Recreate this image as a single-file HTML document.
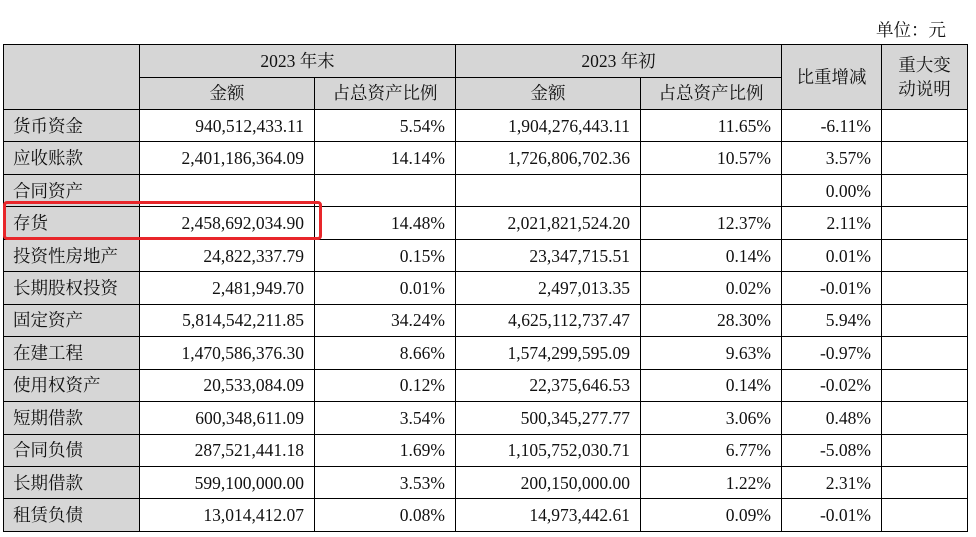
<!DOCTYPE html>
<html><head><meta charset="utf-8">
<style>
html,body{margin:0;padding:0;background:#fff;width:976px;height:537px;overflow:hidden;}
body{font-family:"Liberation Serif","Noto Serif CJK SC",serif;color:#111;font-size:17.5px;position:relative;}
#unit{position:absolute;right:30px;top:17px;font-size:17.5px;}
table{position:absolute;left:3px;top:44px;border-collapse:collapse;table-layout:fixed;width:964px;}
td{border:1px solid #000;padding:0 10px;white-space:nowrap;overflow:hidden;line-height:20px;}
tr.h td{background:#d6d6d6;text-align:center;height:31.5px;}
tr.d td{height:31.46px;text-align:right;}
tr.d td.l{text-align:left;background:#d6d6d6;padding-left:9px;}
#hl{position:absolute;left:3px;top:201px;width:313px;height:33px;border:3px solid #e8262a;border-radius:4px;}
</style></head><body>
<div id="unit">单位：元</div>
<table>
<colgroup><col style="width:136px"><col style="width:175px"><col style="width:141px"><col style="width:185px"><col style="width:141px"><col style="width:100px"><col style="width:86px"></colgroup>
<tr class="h"><td rowspan="2"></td><td colspan="2">2023 年末</td><td colspan="2">2023 年初</td><td rowspan="2">比重增减</td><td rowspan="2" style="line-height:24px;padding:0 4px">重大变<br>动说明</td></tr>
<tr class="h"><td>金额</td><td>占总资产比例</td><td>金额</td><td>占总资产比例</td></tr>
<tr class="d"><td class="l">货币资金</td><td>940,512,433.11</td><td>5.54%</td><td>1,904,276,443.11</td><td>11.65%</td><td>-6.11%</td><td></td></tr>
<tr class="d"><td class="l">应收账款</td><td>2,401,186,364.09</td><td>14.14%</td><td>1,726,806,702.36</td><td>10.57%</td><td>3.57%</td><td></td></tr>
<tr class="d"><td class="l">合同资产</td><td></td><td></td><td></td><td></td><td>0.00%</td><td></td></tr>
<tr class="d"><td class="l">存货</td><td>2,458,692,034.90</td><td>14.48%</td><td>2,021,821,524.20</td><td>12.37%</td><td>2.11%</td><td></td></tr>
<tr class="d"><td class="l">投资性房地产</td><td>24,822,337.79</td><td>0.15%</td><td>23,347,715.51</td><td>0.14%</td><td>0.01%</td><td></td></tr>
<tr class="d"><td class="l">长期股权投资</td><td>2,481,949.70</td><td>0.01%</td><td>2,497,013.35</td><td>0.02%</td><td>-0.01%</td><td></td></tr>
<tr class="d"><td class="l">固定资产</td><td>5,814,542,211.85</td><td>34.24%</td><td>4,625,112,737.47</td><td>28.30%</td><td>5.94%</td><td></td></tr>
<tr class="d"><td class="l">在建工程</td><td>1,470,586,376.30</td><td>8.66%</td><td>1,574,299,595.09</td><td>9.63%</td><td>-0.97%</td><td></td></tr>
<tr class="d"><td class="l">使用权资产</td><td>20,533,084.09</td><td>0.12%</td><td>22,375,646.53</td><td>0.14%</td><td>-0.02%</td><td></td></tr>
<tr class="d"><td class="l">短期借款</td><td>600,348,611.09</td><td>3.54%</td><td>500,345,277.77</td><td>3.06%</td><td>0.48%</td><td></td></tr>
<tr class="d"><td class="l">合同负债</td><td>287,521,441.18</td><td>1.69%</td><td>1,105,752,030.71</td><td>6.77%</td><td>-5.08%</td><td></td></tr>
<tr class="d"><td class="l">长期借款</td><td>599,100,000.00</td><td>3.53%</td><td>200,150,000.00</td><td>1.22%</td><td>2.31%</td><td></td></tr>
<tr class="d"><td class="l">租赁负债</td><td>13,014,412.07</td><td>0.08%</td><td>14,973,442.61</td><td>0.09%</td><td>-0.01%</td><td></td></tr>
</table>
<div id="hl"></div>
</body></html>
